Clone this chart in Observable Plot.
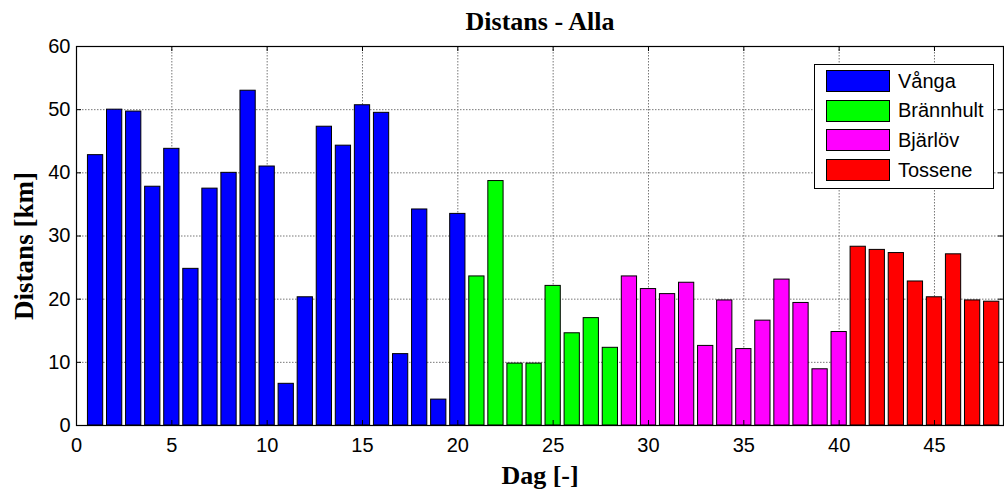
<!DOCTYPE html>
<html>
<head>
<meta charset="utf-8">
<script src="https://cdn.jsdelivr.net/npm/d3@7"></script>
<script src="https://cdn.jsdelivr.net/npm/@observablehq/plot@0.6"></script>
<style>
  html, body { margin: 0; padding: 0; background: #fff; }
  #wrap { position: relative; width: 1004px; height: 492px; }
  #legend { position: absolute; left: 814px; top: 64px; width: 178px; height: 123px;
    border: 1px solid #000; background: #fff; font-family: "Liberation Sans", Arial, sans-serif; font-size: 20px; }
  .row { position: absolute; left: 11px; height: 22px; display: flex; align-items: center; }
  .sw { width: 62px; height: 20px; border: 1px solid #000; margin-right: 8px; }
</style>
</head>
<body>
<div id="wrap"></div>
<script>
// Data
const groups = ["Vånga", "Brännhult", "Bjärlöv", "Tossene"];
const colors = ["#0000ff", "#00ff00", "#ff00ff", "#ff0000"];
const vanga = [42.8, 50.0, 49.7, 37.8, 43.8, 24.8, 37.5, 40.0, 53.0, 41.0,
               6.6, 20.3, 47.3, 44.3, 50.7, 49.5, 11.3, 34.2, 4.1, 33.5];
const brannhult = [23.6, 38.7, 9.8, 9.8, 22.1, 14.6, 17.0, 12.3];
const bjarlov = [23.6, 21.6, 20.8, 22.6, 12.6, 19.8, 12.1, 16.6, 23.1, 19.4, 8.9, 14.8];
const tossene = [28.3, 27.8, 27.3, 22.8, 20.3, 27.1, 19.8, 19.6];
const xTicks = [0, 5, 10, 15, 20, 25, 30, 35, 40, 45];
const yTicks = [0, 10, 20, 30, 40, 50, 60];
const titleText = "Distans - Alla";
const xLabel = "Dag [-]";
const yLabel = "Distans [km]";

const series = [vanga, brannhult, bjarlov, tossene];
const data = [];
let day = 1;
series.forEach((vals, gi) => {
  vals.forEach(v => { data.push({day: day++, value: v, group: groups[gi]}); });
});

const W = 1004, H = 492;
const mT = 46, mB = 67, mL = 76, mR = 1;
const fw = W - mL - mR, fh = H - mT - mB;
const serif = "'Liberation Serif', 'Times New Roman', serif";
const sans = "'Liberation Sans', Arial, sans-serif";

const chart = Plot.plot({
  width: W, height: H,
  marginTop: mT, marginBottom: mB, marginLeft: mL, marginRight: mR,
  style: {fontFamily: sans, fontSize: "20px", color: "#000", background: "#fff"},
  x: {domain: [0, 48.62], ticks: xTicks},
  y: {domain: [0, 60], ticks: yTicks},
  color: {domain: groups, range: colors},
  marks: [
    Plot.gridX(xTicks.slice(1), {stroke: "#777", strokeOpacity: 1, strokeDasharray: "1.5,1.5", strokeWidth: 1}),
    Plot.gridY(yTicks.slice(1, -1), {stroke: "#777", strokeOpacity: 1, strokeDasharray: "1.5,1.5", strokeWidth: 1}),
    Plot.rect(data, {x1: d => d.day - 0.4, x2: d => d.day + 0.4, y1: 0, y2: "value",
      fill: "group", stroke: "#000", strokeWidth: 1}),
    Plot.frame({stroke: "#000", strokeWidth: 1.2}),
    Plot.tickX(xTicks, {x: d => d, insetTop: fh - 5, stroke: "#000"}),
    Plot.tickX(xTicks, {x: d => d, insetBottom: fh - 5, stroke: "#000"}),
    Plot.tickY(yTicks, {y: d => d, insetRight: fw - 5, stroke: "#000"}),
    Plot.tickY(yTicks, {y: d => d, insetLeft: fw - 5, stroke: "#000"}),
    Plot.axisX(xTicks, {tickSize: 0, tickPadding: 12, fontSize: 20, fontFamily: sans, label: null}),
    Plot.axisY(yTicks, {tickSize: 0, tickPadding: 6, fontSize: 20, fontFamily: sans, label: null}),
    Plot.text([titleText], {frameAnchor: "top", lineAnchor: "middle", dy: -25, fontSize: 26, fontWeight: "bold", fontFamily: serif, fill: "#000"}),
    Plot.text([xLabel], {frameAnchor: "bottom", lineAnchor: "middle", dy: 50, fontSize: 26, fontWeight: "bold", fontFamily: serif, fill: "#000"}),
    Plot.text([yLabel], {frameAnchor: "left", textAnchor: "middle", lineAnchor: "middle", dx: -52, dy: 10, rotate: -90, fontSize: 27, fontWeight: "bold", fontFamily: serif, fill: "#000"})
  ]
});

const wrap = document.getElementById("wrap");
wrap.appendChild(chart);

const legend = document.createElement("div");
legend.id = "legend";
groups.forEach((g, i) => {
  const row = document.createElement("div");
  row.className = "row";
  row.style.top = (5 + i * 29.7) + "px";
  const sw = document.createElement("div");
  sw.className = "sw";
  sw.style.background = colors[i];
  const lab = document.createElement("span");
  lab.textContent = g;
  row.appendChild(sw);
  row.appendChild(lab);
  legend.appendChild(row);
});
wrap.appendChild(legend);
</script>
</body>
</html>
